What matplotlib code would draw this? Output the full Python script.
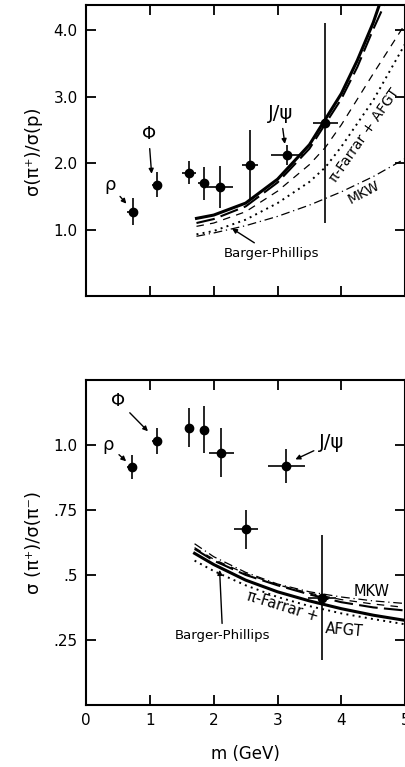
import numpy as np
import matplotlib.pyplot as plt

plt.rcParams['font.family'] = ['DejaVu Sans']

# ---- top panel: sigma(pi+)/sigma(p) ----
m_p = [0.73, 1.11, 1.61, 1.84, 2.10, 2.57, 3.15, 3.75]
r_p = [1.27, 1.68, 1.86, 1.70, 1.64, 1.98, 2.12, 2.61]
r_p_err = [0.20, 0.19, 0.17, 0.25, 0.32, 0.52, 0.15, 1.51]
m_p_err = [0.09, 0.08, 0.11, 0.09, 0.20, 0.12, 0.25, 0.19]

m_solid_t = [1.73, 2.0, 2.5, 3.0, 3.5, 4.0, 4.25, 4.5, 4.6]
v_solid_t = [1.17, 1.22, 1.40, 1.76, 2.28, 3.05, 3.55, 4.12, 4.40]
m_ldash_t = [1.73, 2.0, 2.5, 3.0, 3.5, 4.0, 4.25, 4.5, 4.68]
v_ldash_t = [1.10, 1.16, 1.35, 1.71, 2.22, 2.97, 3.45, 4.02, 4.40]
m_dash_t = [1.73, 2.0, 2.5, 3.0, 3.5, 3.75, 4.0, 4.5, 5.0]
v_dash_t = [1.05, 1.10, 1.27, 1.58, 1.98, 2.24, 2.58, 3.35, 4.10]
m_dot_t = [1.73, 2.0, 2.5, 3.0, 3.5, 3.75, 4.0, 4.5, 5.0]
v_dot_t = [0.93, 0.98, 1.15, 1.40, 1.72, 1.94, 2.25, 2.95, 3.80]
m_mkw_t = [1.73, 2.0, 2.5, 3.0, 3.5, 4.0, 4.5, 5.0]
v_mkw_t = [0.90, 0.95, 1.06, 1.20, 1.37, 1.57, 1.80, 2.07]

# ---- bottom panel: sigma(pi+)/sigma(pi-) ----
m_pi = [0.72, 1.11, 1.62, 1.84, 2.12, 2.51, 3.14, 3.70]
r_pi = [0.915, 1.015, 1.066, 1.058, 0.97, 0.676, 0.92, 0.413]
r_pi_err = [0.045, 0.05, 0.075, 0.09, 0.095, 0.075, 0.065, 0.24]
m_pi_err = [0.08, 0.08, 0.06, 0.06, 0.19, 0.19, 0.29, 0.22]

m_curve_b = [1.7, 2.0, 2.5, 3.0, 3.5, 4.0, 4.5, 5.0]
v_mkw_b = [0.62, 0.57, 0.51, 0.465, 0.435, 0.415, 0.40, 0.39]
v_dash_b = [0.605, 0.56, 0.505, 0.462, 0.43, 0.405, 0.388, 0.375]
v_ldash_b = [0.60, 0.555, 0.50, 0.46, 0.425, 0.395, 0.375, 0.363]
v_solid_b = [0.583, 0.54, 0.48, 0.435, 0.40, 0.37, 0.345, 0.325]
v_dot_b = [0.555, 0.515, 0.46, 0.415, 0.38, 0.352, 0.33, 0.31]

fig = plt.figure(figsize=(4.06, 7.67), dpi=100)
ax1 = fig.add_axes([0.212, 0.614, 0.786, 0.380])
ax2 = fig.add_axes([0.212, 0.081, 0.786, 0.4236])


def style_axes(ax):
    for s in ax.spines.values():
        s.set_linewidth(1.5)
    ax.tick_params(direction='in', length=7, width=1.3, top=True, right=True,
                   labelsize=11, pad=6)
    ax.set_xlim(0, 5)


def curves(ax, ms, vs_list):
    m1, m2, m3, m4, m5 = ms
    s, ld, d, dt, mk = vs_list
    ax.plot(m1, s, color='black', lw=2.2)
    ax.plot(m2, ld, color='black', lw=1.5, dashes=(9, 3))
    ax.plot(m3, d, color='black', lw=0.9, dashes=(6, 5))
    ax.plot(m4, dt, color='black', lw=1.4, dashes=(1, 2.2))
    ax.plot(m5, mk, color='black', lw=0.9, dashes=(7, 3, 1, 3))


arrow = dict(arrowstyle='-|>', color='black', lw=1.0, mutation_scale=7,
             connectionstyle='arc3,rad=0')

# top
style_axes(ax1)
ax1.set_ylim(0, 4.39)
ax1.set_yticks([1.0, 2.0, 3.0, 4.0])
ax1.set_yticklabels(['1.0', '2.0', '3.0', '4.0'])
ax1.set_xticks([1, 2, 3, 4])
ax1.tick_params(labelbottom=False)
curves(ax1, (m_solid_t, m_ldash_t, m_dash_t, m_dot_t, m_mkw_t),
       (v_solid_t, v_ldash_t, v_dash_t, v_dot_t, v_mkw_t))
ax1.errorbar(m_p, r_p, yerr=r_p_err, xerr=m_p_err, fmt='o', color='black',
             ms=6, elinewidth=1.2, capsize=0)
ax1.set_ylabel('σ(π⁺)/σ(p)', fontsize=13, labelpad=8)
ax1.annotate('ρ', xy=(0.66, 1.36), xytext=(0.37, 1.68), fontsize=13,
             ha='center', va='center', arrowprops=arrow)
ax1.annotate('Φ', xy=(1.03, 1.80), xytext=(0.98, 2.44), fontsize=13,
             ha='center', va='center', arrowprops=arrow)
ax1.annotate('J/ψ', xy=(3.12, 2.25), xytext=(3.05, 2.75), fontsize=14,
             ha='center', va='center', arrowprops=arrow)
ax1.annotate('Barger-Phillips', xy=(2.25, 1.04), xytext=(2.9, 0.64),
             fontsize=9.5, ha='center', va='center', arrowprops=arrow)
ax1.text(4.37, 2.42, 'π-Farrar + AFGT', fontsize=10, rotation=55,
         ha='center', va='center')
ax1.text(4.36, 1.56, 'MKW', fontsize=10, rotation=28, ha='center', va='center')

# bottom
style_axes(ax2)
ax2.set_ylim(0, 1.25)
ax2.set_yticks([0.25, 0.5, 0.75, 1.0])
ax2.set_yticklabels(['.25', '.5', '.75', '1.0'])
ax2.set_xticks([0, 1, 2, 3, 4, 5])
curves(ax2, (m_curve_b,) * 5, (v_solid_b, v_ldash_b, v_dash_b, v_dot_b, v_mkw_b))
ax2.errorbar(m_pi, r_pi, yerr=r_pi_err, xerr=m_pi_err, fmt='o', color='black',
             ms=6, elinewidth=1.2, capsize=0)
ax2.set_ylabel('σ (π⁺)/σ(π⁻)', fontsize=13, labelpad=8)
ax2.set_xlabel('m (GeV)', fontsize=12, labelpad=12)
ax2.annotate('Φ', xy=(1.0, 1.045), xytext=(0.5, 1.17), fontsize=13,
             ha='center', va='center', arrowprops=arrow)
ax2.annotate('ρ', xy=(0.66, 0.93), xytext=(0.35, 1.0), fontsize=13,
             ha='center', va='center', arrowprops=arrow)
ax2.annotate('J/ψ', xy=(3.24, 0.94), xytext=(3.85, 1.01), fontsize=14,
             ha='center', va='center', arrowprops=arrow)
ax2.annotate('Barger-Phillips', xy=(2.09, 0.53), xytext=(2.14, 0.267),
             fontsize=9.5, ha='center', va='center', arrowprops=arrow)
ax2.text(3.08, 0.378, 'π-Farrar +', fontsize=10.5, rotation=-17,
         ha='center', va='center')
ax2.text(4.05, 0.288, 'AFGT', fontsize=10.5, rotation=-5, ha='center', va='center')
ax2.text(4.48, 0.435, 'MKW', fontsize=10.5, ha='center', va='center')

fig.savefig('out.png', dpi=100)
